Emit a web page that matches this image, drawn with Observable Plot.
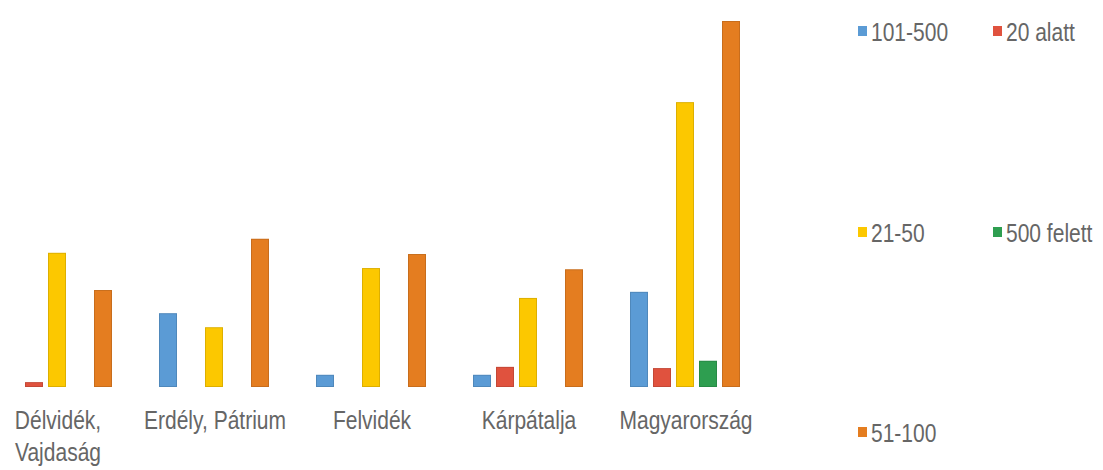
<!DOCTYPE html>
<html>
<head>
<meta charset="utf-8">
<script src="https://cdn.jsdelivr.net/npm/d3@7"></script>
<script src="https://cdn.jsdelivr.net/npm/@observablehq/plot@0.6"></script>
<style>
  html, body { margin: 0; padding: 0; background: #fff; }
  #wrap { position: relative; width: 1103px; height: 470px; overflow: hidden; font-family: "Liberation Sans", Arial, sans-serif; }
  #chart { position: absolute; left: 0; top: 0; }
  .lg { position: absolute; display: flex; align-items: center; height: 30px; color: #666; font-size: 21px; white-space: nowrap; }
  .lg .sw { width: 9px; height: 10px; margin-right: 4px; flex: none; }
  .lg .tx { display: inline-block; transform: scaleY(1.25); transform-origin: 50% 50%; line-height: 1; }
</style>
</head>
<body>
<div id="wrap"><div id="chart"></div></div>
<script>
// ---- data ----
const categories = ["Délvidék, Vajdaság", "Erdély, Pátrium", "Felvidék", "Kárpátalja", "Magyarország"];
const tickLabels = ["Délvidék,\nVajdaság", "Erdély, Pátrium", "Felvidék", "Kárpátalja", "Magyarország"];
const series = ["101-500", "20 alatt", "21-50", "500 felett", "51-100"];
const colors = ["#5b9bd5", "#e0523e", "#fcc800", "#2e9e50", "#e47d20"];
const v101_500   = [null, 12.1, 2.0, 2.0, 15.6];
const v20_alatt  = [0.8, null, null, 3.3, 3.1];
const v21_50     = [22.0, 9.8, 19.5, 14.6, 46.7];
const v500_felett= [null, null, null, null, 4.3];
const v51_100    = [15.9, 24.3, 21.8, 19.3, 60.0];
const seriesValues = [v101_500, v20_alatt, v21_50, v500_felett, v51_100];

const data = [];
categories.forEach((c, i) => seriesValues.forEach((arr, j) => {
  if (arr[i] != null) data.push({category: c, series: series[j], value: arr[i]});
}));

const labelOf = new Map(categories.map((c, i) => [c, tickLabels[i]]));

const chart = Plot.plot({
  width: 800,
  height: 470,
  marginTop: 21,
  marginBottom: 83,
  marginLeft: 0,
  marginRight: 57,
  style: {fontFamily: "'Liberation Sans', Arial, sans-serif", background: "transparent", overflow: "visible"},
  fx: {domain: categories, paddingInner: 0.27, paddingOuter: 0, label: null},
  x: {domain: series, paddingInner: 0.2, paddingOuter: 0, axis: null},
  y: {domain: [0, 60], axis: null},
  color: {domain: series, range: colors},
  marks: [
    Plot.barY(data, {fx: "category", x: "series", y: "value", fill: "series"}),
    Plot.barY(data, {fx: "category", x: "series", y: "value", fill: "none", stroke: "#000", strokeOpacity: 0.12, inset: 0.5}),
    Plot.axisFx({anchor: "bottom", tickSize: 0, tickPadding: 19, fontSize: 21, lineHeight: 1.22,
      fill: "#666", label: null, tickFormat: d => labelOf.get(d)})
  ]
});
document.getElementById("chart").appendChild(chart);

// stretch axis text vertically (reference glyphs are tall/narrow)
chart.querySelectorAll('g[aria-label="fx-axis tick label"] text').forEach(t => {
  const tr = t.getAttribute("transform");
  if (tr) t.setAttribute("transform", tr + " scale(1,1.25)");
});

// ---- legend (right side, Excel-style 2-column grid) ----
const legendPos = [
  {x: 858, y: 31}, {x: 993, y: 31},
  {x: 858, y: 232}, {x: 993, y: 232},
  {x: 858, y: 432}
];
const wrap = document.getElementById("wrap");
series.forEach((s, i) => {
  const d = document.createElement("div");
  d.className = "lg";
  d.style.left = legendPos[i].x + "px";
  d.style.top = (legendPos[i].y - 15) + "px";
  const sw = document.createElement("span");
  sw.className = "sw";
  sw.style.background = colors[i];
  const tx = document.createElement("span");
  tx.className = "tx";
  tx.textContent = s;
  d.appendChild(sw); d.appendChild(tx);
  wrap.appendChild(d);
});
</script>
</body>
</html>
